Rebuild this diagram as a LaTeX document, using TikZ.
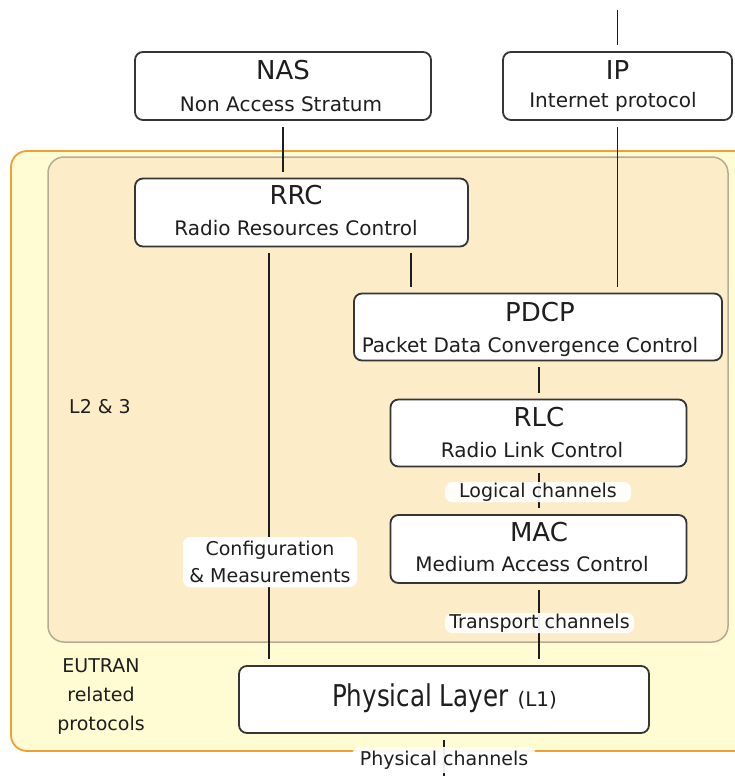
\documentclass[tikz,border=0pt]{standalone}
\usepackage{fontspec}
\setmainfont{DejaVu Sans}
\newfontfamily\condfont[FakeStretch=0.82]{DejaVu Sans}
\definecolor{outerfill}{RGB}{255,251,210}
\definecolor{outerline}{RGB}{240,160,50}
\definecolor{innerfill}{RGB}{252,236,200}
\definecolor{innerline}{RGB}{180,172,150}
\definecolor{ink}{RGB}{30,30,30}
\tikzset{
  box/.style={draw=ink!90, line width=1.8pt, fill=white, rounded corners=8pt, inner sep=0pt},
  titletext/.style={anchor=base, text=ink, inner sep=0pt, font=\fontsize{26}{30}\selectfont},
  subtext/.style={anchor=base, text=ink, inner sep=0pt, font=\fontsize{20}{24}\selectfont},
  lbl/.style={fill=white, fill opacity=0.92, text opacity=1, text=ink, rounded corners=7pt, inner sep=0pt, font=\fontsize{19}{27}\selectfont},
  plain/.style={text=ink, inner sep=0pt, font=\fontsize{19}{29}\selectfont, align=center},
  conn/.style={draw=ink, line width=1.5pt, shorten <=6pt, shorten >=6pt}
}
\begin{document}
\begin{tikzpicture}[x=1pt,y=-1pt]
\clip (0,0) rectangle (735,776);
\fill[white] (0,0) rectangle (735,776);
% background areas
\draw[fill=outerfill, draw=outerline, line width=1.8pt, rounded corners=16pt] (11,151) rectangle (760,751);
\draw[fill=innerfill, draw=innerline, line width=1.5pt, rounded corners=16pt] (48,157) rectangle (728,642);
\node[plain] (l23) at (100,407) {L2 \& 3};
\node[plain] (eutran) at (101,697) {EUTRAN\\related\\protocols};
% boxes
\node[box, minimum width=296, minimum height=68] (nas) at (283,86) {};
\node[box, minimum width=229, minimum height=68] (ip) at (617.5,86) {};
\node[box, minimum width=333, minimum height=68] (rrc) at (301.5,212.5) {};
\node[box, minimum width=368, minimum height=67] (pdcp) at (538,327) {};
\node[box, minimum width=296, minimum height=67] (rlc) at (538.5,433) {};
\node[box, minimum width=296, minimum height=68] (mac) at (538.5,549) {};
\node[box, minimum width=410, minimum height=67] (phy) at (444,699.5) {};
% box texts
\node[titletext] (nast) at (283,80) {NAS};
\node[subtext] (nass) at (281,111) {Non Access Stratum};
\node[titletext] (ipt) at (617.5,79) {IP};
\node[subtext] (ips) at (613,107) {Internet protocol};
\node[titletext] (rrct) at (296,204.5) {RRC};
\node[subtext] (rrcs) at (296,235.5) {Radio Resources Control};
\node[titletext] (pdcpt) at (540,321.5) {PDCP};
\node[subtext] (pdcps) at (530,352.5) {Packet Data Convergence Control};
\node[titletext] (rlct) at (539,426) {RLC};
\node[subtext] (rlcs) at (532,457) {Radio Link Control};
\node[titletext] (mact) at (539,541) {MAC};
\node[subtext] (macs) at (532,571.5) {Medium Access Control};
\node[anchor=base, text=ink, inner sep=0pt] (phyt) at (444.5,706.5) {{\condfont\fontsize{30}{36}\selectfont Physical Layer}\hspace{9pt}{\fontsize{20}{24}\selectfont (L1)}};
% free ends
\coordinate (iptop) at (617.5,4);
\coordinate (phybot) at (444,790);
% connectors
\draw[conn] (iptop) -- (ip.north);
\draw[conn] (ip.south) -- (ip.south |- pdcp.north);
\draw[conn] (nas.south) -- (nas.south |- rrc.north);
\draw[conn] (rrc.south -| 269,0) -- (phy.north -| 269,0);
\draw[conn] (rrc.south -| 411,0) -- (pdcp.north -| 411,0);
\draw[conn] (pdcp.south -| 539,0) -- (rlc.north -| 539,0);
\draw[conn] (rlc.south -| 539,0) -- (mac.north -| 539,0);
\draw[conn] (mac.south -| 539,0) -- (phy.north -| 539,0);
\draw[conn] (phy.south -| 444,0) -- (phybot);
% labels
\node[lbl, fill opacity=1, minimum width=174, minimum height=50, align=center] (cfg) at (270,562) {Configuration\\\& Measurements};
\node[lbl, minimum width=186, minimum height=20] (logical) at (538,492) {Logical channels};
\node[lbl, minimum width=189, minimum height=20] (transport) at (539.5,623) {Transport channels};
\node[lbl, minimum width=183, minimum height=26] (physch) at (444,760) {Physical channels};
\end{tikzpicture}
\end{document}
